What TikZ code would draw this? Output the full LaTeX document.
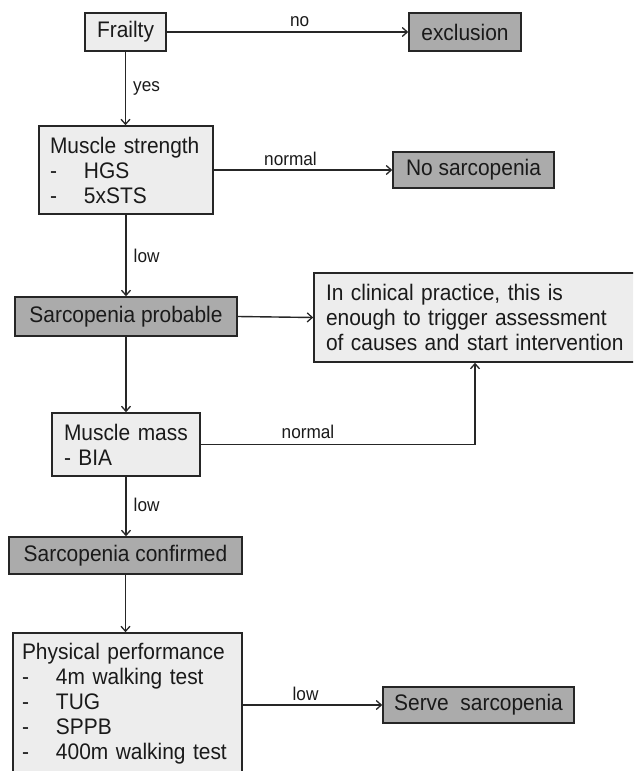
\documentclass[tikz,border=0pt]{standalone}
\usepackage{fontspec}
\setmainfont{Liberation Sans}[FakeStretch=0.93]
\newfontfamily\lblfont{Liberation Sans}[FakeStretch=0.93]
\usetikzlibrary{arrows.meta}
\definecolor{lightfill}{HTML}{EDEDED}
\definecolor{darkfill}{HTML}{ABABAB}
\definecolor{linecol}{HTML}{262626}
\definecolor{textcol}{HTML}{1A1A1A}
\tikzset{
  boxbase/.style={draw=linecol, line width=1.6pt, text=textcol, inner ysep=0pt,
    font=\fontsize{22.5}{25}\selectfont},
  lightbox/.style={boxbase, fill=lightfill},
  darkbox/.style={boxbase, fill=darkfill},
  conn/.style={draw=linecol, line width=1.4pt},
  arr/.style={conn, -{Straight Barb[length=5pt,width=9pt,line width=1.3pt]}},
  lbl/.style={text=textcol, font=\lblfont\fontsize{18.5}{20}\selectfont, inner sep=0pt}
}
\newcommand{\itm}[1]{\makebox[34pt][l]{-}#1}
\begin{document}
\begin{tikzpicture}[x=1pt,y=-1pt]
\clip (0,0) rectangle (633,771);
\fill[white] (0,0) rectangle (633,771);

\node[lightbox, minimum width=81pt, minimum height=38pt] (frailty) at (125.5,32) {Frailty};
\node[darkbox, minimum width=112pt, minimum height=38pt] (excl) at (465,32) {exclusion};

\node[lightbox, minimum width=174pt, minimum height=88pt, inner xsep=11pt, text width=152pt, align=left] (ms) at (126,170)
  {Muscle strength\\\itm{HGS}\\\itm{5xSTS}};
\node[darkbox, minimum width=161pt, minimum height=36pt] (nosarc) at (473.5,170) {No sarcopenia};

\node[darkbox, minimum width=222pt, minimum height=39pt] (prob) at (126,316.5) {Sarcopenia probable};
\node[lightbox, minimum width=322pt, minimum height=89pt, inner xsep=12pt, text width=298pt, align=left] (clin) at (475,317.5)
  {In clinical practice, this is\\enough to trigger assessment\\of causes and start intervention};

\node[lightbox, minimum width=148pt, minimum height=63pt, inner xsep=12pt, text width=124pt, align=left] (mass) at (126,444.5)
  {Muscle mass\\- BIA};

\node[darkbox, minimum width=233pt, minimum height=37pt] (conf) at (125.5,555.5) {Sarcopenia confirmed};

\node[lightbox, minimum width=229pt, minimum height=142pt, inner xsep=9pt, text width=211pt, align=left] (phys) at (127.5,704)
  {Physical performance\\\itm{4m walking test}\\\itm{TUG}\\\itm{SPPB}\\\itm{400m walking test}};
\node[darkbox, minimum width=191pt, minimum height=36pt] (serve) at (478.5,705) {Serve~ sarcopenia};

\coordinate (bend) at (475,444.5);

\draw[arr] (frailty.east) -- (excl.west) node[lbl, pos=0.55, above=5pt] (lno) {no};
\draw[arr] (frailty.south) -- (frailty.south |- ms.north) node[lbl, midway, right=7pt] (lyes) {yes};
\draw[arr] (ms.east) -- (nosarc.west) node[lbl, pos=0.43, above=4pt] (lnorm1) {normal};
\draw[arr] (ms.south) -- (ms.south |- prob.north) node[lbl, pos=0.5, right=7pt] (llow1) {low};
\draw[arr] (prob.east) -- (clin.west);
\draw[arr] (prob.south) -- (prob.south |- mass.north);
\draw[arr] (mass.east) -- (bend) -- (clin.south);
\node[lbl] (lnorm2) at (308,432) {normal};
\draw[arr] (mass.south) -- (mass.south |- conf.north) node[lbl, pos=0.47, right=7pt] (llow2) {low};
\draw[arr] (conf.south) -- (conf.south |- phys.north);
\draw[arr] (serve.west -| phys.east) -- (serve.west) node[lbl, pos=0.45, above=4pt] (llow3) {low};
\end{tikzpicture}
\end{document}
